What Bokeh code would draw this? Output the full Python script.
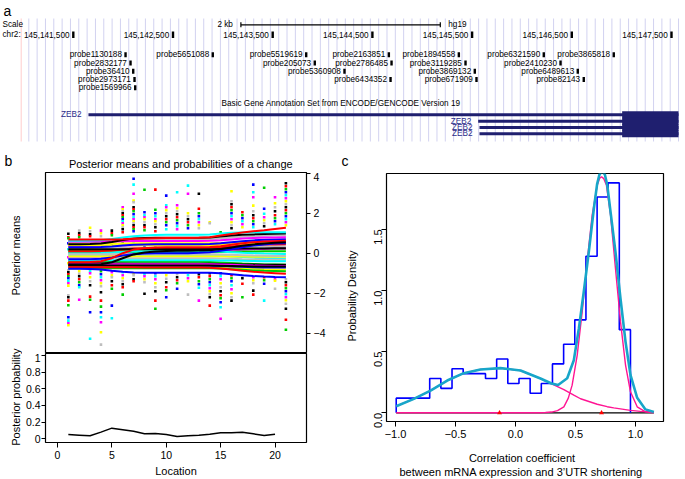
import math
import numpy as np
from bokeh.plotting import figure
from bokeh.layouts import column, row
from bokeh.models import Range1d, Label, FixedTicker, CustomJSTickFormatter
from bokeh.embed import file_html
from bokeh.resources import INLINE
from bokeh.core.properties import value

FONT = "Liberation Sans"
R_PAL = ["#000000", "#FF0000", "#00CD00", "#0000FF", "#00FFFF", "#FF00FF", "#FFFF00", "#BEBEBE"]
NAVY = "#1f1f6f"

# ---------------- panel a data ----------------
chrom_ticks = [145141500, 145142500, 145143500, 145144500, 145145500, 145146500, 145147500]
chrom_tick_labels = ["145,141,500", "145,142,500", "145,143,500", "145,144,500",
                     "145,145,500", "145,146,500", "145,147,500"]
scale_bar_start = 145143181
scale_bar_len = 2000
probe_names = ["probe1130188", "probe5651088", "probe5519619", "probe2163851", "probe1894558",
               "probe6321590", "probe3865818",
               "probe2832177", "probe205073", "probe2786485", "probe3119285", "probe2410230",
               "probe36410", "probe5360908", "probe3869132", "probe6489613",
               "probe2973171", "probe6434352", "probe671909", "probe82143",
               "probe1569966"]
probe_pos = [145142024, 145142899, 145143836, 145144665, 145145367, 145146219, 145146921,
             145142074, 145143922, 145144692, 145145434, 145146387,
             145142101, 145144220, 145145527, 145146560,
             145142114, 145144682, 145145544, 145146620,
             145142121]
probe_row = [1, 1, 1, 1, 1, 1, 1, 2, 2, 2, 2, 2, 3, 3, 3, 3, 4, 4, 4, 4, 5]
gene_names = ["ZEB2", "ZEB2", "ZEB2", "ZEB2"]
tx_start = [145141652, 145145561, 145145574, 145145574]
tx_end = [145147570, 145147570, 145147570, 145147570]
thick_start = [145147005, 145147005, 145147005, 145147005]
tx_row = [1, 2, 3, 4]

# ---------------- panel b data ----------------
locations = [1, 2, 3, 4, 5, 6, 7, 8, 9, 10, 11, 12, 13, 14, 15, 16, 17, 18, 19, 20, 21]
obs_by_location = [
    [0.97, 0.8, 0.75, 0.5, 0.2, -0.2, -0.5, -0.85, -0.95, -1.05, -1.15, -1.25, -1.37, -1.5, -1.62, -2.1, -2.2, -2.37, -2.6, -3.2, -3.37, -3.5, -3.6],
    [1.13, 1.0, 0.9, 0.8, 0.4, 0.0, -0.4, -0.9, -1.03, -1.15, -1.3, -1.45, -1.6, -1.7, -2.33],
    [1.27, 1.1, 0.95, 0.85, 0.3, -0.3, -0.9, -1.0, -1.2, -1.4, -1.6, -2.17, -2.33, -2.95, -4.28],
    [1.13, 1.0, 0.85, 0.2, -0.3, -0.9, -1.05, -1.2, -1.35, -1.5, -1.65, -1.95, -2.37, -2.67, -2.95, -3.2, -3.45, -3.95, -4.57],
    [1.13, 1.0, 0.9, 0.4, -0.2, -0.95, -1.1, -1.2, -1.4, -1.6, -1.78, -2.62, -3.25],
    [2.3, 2.2, 2.1, 2.0, 1.9, 1.8, 1.7, 1.6, 1.5, 1.4, 1.3, 1.2, 1.05, 0.5, 0.0, -0.95, -1.1, -1.25, -1.4, -1.55, -1.7, -2.07],
    [3.72, 3.43, 2.97, 2.63, 2.55, 2.3, 2.2, 2.1, 1.95, 1.8, 1.7, 1.6, 1.5, 1.4, 1.3, 1.2, 1.1, 0.5, 0.0, -1.0, -1.1, -1.3, -1.4],
    [3.17, 2.05, 1.9, 1.8, 1.7, 1.55, 1.4, 1.3, 1.15, 0.3, -1.05, -1.15, -1.3, -1.45, -2.03],
    [3.18, 2.17, 2.0, 1.85, 1.7, 1.6, 1.45, 1.3, 1.1, 0.4, -1.0, -1.15, -1.3, -1.5, -1.7, -1.9, -2.37, -2.78],
    [2.88, 2.4, 2.3, 2.15, 2.0, 1.85, 1.7, 1.55, 1.4, 1.2, 0.2, -1.1, -1.28, -1.45, -1.7, -1.85, -2.2],
    [3.05, 2.4, 2.25, 2.1, 1.95, 1.8, 1.65, 1.5, 1.35, 1.2, 0.1, -1.05, -1.2, -1.35, -1.5, -1.78],
    [3.38, 2.97, 2.0, 1.85, 1.7, 1.55, 1.4, 1.25, -1.1, -1.25, -1.4, -2.07],
    [2.97, 2.22, 2.0, 1.85, 1.7, 1.55, 1.4, 1.25, -1.05, -1.2, -1.4, -1.55, -1.73, -2.37],
    [1.55, 1.5, -1.0, -1.15, -1.3, -1.45, -1.6, -1.75, -1.9, -2.05, -2.2, -2.62],
    [1.05, -1.0, -1.15, -1.3, -1.5, -1.7, -1.9, -2.1, -2.25, -2.45, -2.7, -3.28],
    [3.1, 2.6, 2.45, 2.3, 2.15, 2.0, 1.85, 1.7, 1.55, 1.4, 1.25, -1.1, -1.25, -1.4, -1.6, -1.8, -2.0, -2.2, -2.37],
    [2.05, 1.9, 1.75, 1.6, 1.45, 1.3, -1.1, -1.25, -1.53, -2.2],
    [3.43, 3.05, 2.8, 2.38, 2.1, 1.9, 1.75, 1.6, 1.45, 1.3, -1.2, -1.35, -1.5, -1.87, -2.07],
    [3.27, 2.22, 1.97, 1.8, 1.65, 1.5, 1.35, -1.2, -1.35, -1.53, -2.37],
    [2.8, 2.5, 2.3, 2.1, 1.9, 1.75, 1.6, 1.45, -1.3, -1.37, -1.78],
    [3.5, 3.35, 3.2, 3.05, 2.9, 2.75, 2.6, 2.45, 2.3, 2.15, 2.0, 1.85, 1.7, 1.55, 1.4, -1.3, -1.45, -1.6, -1.75, -1.9, -2.05, -2.2, -2.35, -2.53, -2.78, -3.33, -3.83],
]
mean_lines = [
    [0.15, 0.15, 0.15, 0.15, 0.16, 0.17, 0.18, 0.18, 0.18, 0.18, 0.18, 0.18, 0.18, 0.18, 0.19, 0.20, 0.21, 0.22, 0.22, 0.23, 0.23],
    [0.35, 0.35, 0.35, 0.35, 0.36, 0.38, 0.40, 0.41, 0.42, 0.42, 0.42, 0.42, 0.42, 0.43, 0.46, 0.50, 0.54, 0.57, 0.59, 0.60, 0.61],
    [0.48, 0.48, 0.48, 0.48, 0.48, 0.49, 0.50, 0.50, 0.50, 0.50, 0.50, 0.50, 0.50, 0.50, 0.51, 0.52, 0.53, 0.54, 0.54, 0.55, 0.55],
    [0.55, 0.55, 0.56, 0.57, 0.60, 0.64, 0.67, 0.69, 0.70, 0.70, 0.70, 0.70, 0.70, 0.71, 0.74, 0.78, 0.82, 0.85, 0.87, 0.88, 0.89],
    [-0.40, -0.40, -0.40, -0.40, -0.41, -0.42, -0.43, -0.43, -0.43, -0.43, -0.43, -0.43, -0.43, -0.44, -0.46, -0.49, -0.52, -0.54, -0.56, -0.57, -0.58],
    [-0.10, -0.10, -0.10, -0.10, -0.10, -0.10, -0.10, -0.10, -0.10, -0.10, -0.10, -0.10, -0.10, -0.11, -0.13, -0.16, -0.19, -0.22, -0.24, -0.25, -0.26],
    [-0.20, -0.20, -0.20, -0.19, -0.15, -0.08, -0.02, 0.02, 0.04, 0.05, 0.05, 0.05, 0.05, 0.06, 0.09, 0.13, 0.17, 0.20, 0.22, 0.23, 0.24],
    [-0.65, -0.65, -0.65, -0.65, -0.65, -0.65, -0.66, -0.66, -0.66, -0.66, -0.66, -0.66, -0.66, -0.67, -0.69, -0.72, -0.75, -0.78, -0.80, -0.81, -0.82],
    [0.25, 0.25, 0.25, 0.25, 0.25, 0.26, 0.27, 0.27, 0.27, 0.27, 0.27, 0.27, 0.27, 0.27, 0.28, 0.30, 0.32, 0.33, 0.34, 0.35, 0.35],
    [-0.50, -0.50, -0.50, -0.50, -0.51, -0.52, -0.53, -0.53, -0.53, -0.53, -0.53, -0.53, -0.53, -0.53, -0.54, -0.55, -0.56, -0.57, -0.58, -0.58, -0.58],
    [0.05, 0.05, 0.05, 0.05, 0.05, 0.05, 0.05, 0.05, 0.05, 0.05, 0.05, 0.05, 0.05, 0.05, 0.06, 0.07, 0.08, 0.09, 0.10, 0.10, 0.10],
    [-0.60, -0.60, -0.60, -0.60, -0.61, -0.62, -0.63, -0.63, -0.63, -0.63, -0.63, -0.63, -0.63, -0.63, -0.64, -0.66, -0.68, -0.70, -0.71, -0.72, -0.72],
    [0.00, 0.00, 0.00, 0.01, 0.03, 0.06, 0.08, 0.09, 0.10, 0.10, 0.10, 0.10, 0.10, 0.10, 0.08, 0.05, 0.02, 0.00, -0.02, -0.03, -0.04],
    [-0.55, -0.55, -0.55, -0.55, -0.55, -0.55, -0.55, -0.55, -0.55, -0.55, -0.55, -0.55, -0.55, -0.55, -0.56, -0.58, -0.60, -0.62, -0.63, -0.64, -0.64],
    [0.40, 0.40, 0.40, 0.40, 0.40, 0.40, 0.40, 0.40, 0.40, 0.40, 0.40, 0.40, 0.40, 0.40, 0.41, 0.43, 0.45, 0.46, 0.47, 0.48, 0.48],
    [-0.25, -0.25, -0.25, -0.25, -0.25, -0.25, -0.25, -0.25, -0.25, -0.25, -0.25, -0.25, -0.25, -0.25, -0.26, -0.28, -0.30, -0.31, -0.32, -0.33, -0.33],
    [-0.62, -0.62, -0.62, -0.62, -0.62, -0.62, -0.62, -0.62, -0.62, -0.62, -0.62, -0.62, -0.62, -0.62, -0.63, -0.64, -0.65, -0.66, -0.67, -0.67, -0.67],
    [0.10, 0.10, 0.10, 0.11, 0.14, 0.19, 0.23, 0.25, 0.26, 0.26, 0.26, 0.26, 0.26, 0.27, 0.30, 0.34, 0.38, 0.41, 0.43, 0.44, 0.45],
    [-0.75, -0.75, -0.75, -0.75, -0.75, -0.75, -0.75, -0.75, -0.75, -0.75, -0.75, -0.75, -0.75, -0.75, -0.77, -0.80, -0.83, -0.86, -0.88, -0.89, -0.90],
    [0.30, 0.30, 0.30, 0.31, 0.34, 0.38, 0.42, 0.44, 0.45, 0.45, 0.45, 0.45, 0.45, 0.46, 0.50, 0.55, 0.60, 0.64, 0.67, 0.69, 0.70],
    [-0.35, -0.35, -0.35, -0.35, -0.35, -0.35, -0.35, -0.35, -0.35, -0.35, -0.35, -0.35, -0.35, -0.35, -0.36, -0.37, -0.38, -0.39, -0.40, -0.40, -0.40],
    [0.58, 0.58, 0.58, 0.58, 0.59, 0.60, 0.61, 0.61, 0.61, 0.61, 0.61, 0.61, 0.61, 0.62, 0.65, 0.69, 0.73, 0.76, 0.78, 0.79, 0.80],
    [-0.15, -0.15, -0.15, -0.15, -0.15, -0.15, -0.15, -0.15, -0.15, -0.15, -0.15, -0.15, -0.15, -0.15, -0.15, -0.16, -0.17, -0.18, -0.18, -0.18, -0.18],
    [-0.05, -0.05, -0.05, -0.05, -0.05, -0.05, -0.05, -0.05, -0.05, -0.05, -0.05, -0.05, -0.05, -0.05, -0.06, -0.08, -0.10, -0.12, -0.13, -0.14, -0.14],
    [0.20, 0.20, 0.20, 0.20, 0.20, 0.20, 0.20, 0.20, 0.20, 0.20, 0.20, 0.20, 0.20, 0.20, 0.21, 0.22, 0.23, 0.24, 0.24, 0.25, 0.25],
    [0.45, 0.45, 0.46, 0.48, 0.56, 0.66, 0.73, 0.76, 0.77, 0.77, 0.77, 0.77, 0.77, 0.79, 0.83, 0.88, 0.92, 0.94, 0.96, 0.97, 0.98],
    [-0.70, -0.70, -0.70, -0.70, -0.70, -0.70, -0.70, -0.71, -0.71, -0.71, -0.71, -0.72, -0.72, -0.73, -0.76, -0.82, -0.88, -0.93, -0.97, -1.00, -1.03],
    [-0.30, -0.30, -0.30, -0.28, -0.22, -0.12, -0.05, -0.02, 0.00, 0.00, 0.00, 0.00, 0.02, 0.05, 0.12, 0.20, 0.30, 0.38, 0.44, 0.48, 0.50],
    [-0.45, -0.45, -0.44, -0.40, -0.25, 0.00, 0.18, 0.25, 0.28, 0.30, 0.30, 0.30, 0.30, 0.31, 0.35, 0.42, 0.50, 0.55, 0.58, 0.60, 0.62],
    [0.62, 0.62, 0.63, 0.65, 0.71, 0.79, 0.85, 0.89, 0.91, 0.92, 0.92, 0.92, 0.92, 0.94, 0.99, 1.02, 1.04, 1.05, 1.05, 1.05, 1.05],
    [0.68, 0.68, 0.68, 0.68, 0.69, 0.70, 0.72, 0.74, 0.75, 0.76, 0.76, 0.76, 0.77, 0.80, 0.88, 0.96, 1.03, 1.10, 1.15, 1.21, 1.27],
    [-0.78, -0.78, -0.79, -0.82, -0.88, -0.93, -0.96, -0.98, -0.98, -0.98, -0.98, -0.98, -0.98, -0.98, -1.00, -1.05, -1.10, -1.14, -1.17, -1.19, -1.20],
    [-0.57, -0.57, -0.57, -0.55, -0.45, -0.25, -0.06, 0.04, 0.09, 0.11, 0.12, 0.12, 0.13, 0.15, 0.21, 0.29, 0.37, 0.44, 0.49, 0.52, 0.55],
]
mean_line_colors = ["green3", "magenta", "yellow", "gray", "green3", "cyan", "magenta", "yellow",
                    "gray", "black", "green3", "blue", "cyan", "magenta", "yellow", "gray",
                    "black", "red", "green3", "blue", "cyan", "magenta", "yellow", "gray",
                    "black", "black", "red", "blue", "red", "cyan", "red", "blue", "black"]
prob_locations = [1, 2, 3, 4, 5, 6, 7, 8, 9, 10, 11, 12, 13, 14, 15, 16, 17, 18, 19, 20]
prob_values = [0.052, 0.044, 0.036, 0.080, 0.128, 0.110, 0.090, 0.060, 0.064, 0.052,
               0.028, 0.036, 0.044, 0.056, 0.072, 0.072, 0.080, 0.060, 0.040, 0.056]

# ---------------- panel c data ----------------
bin_edges = [-0.994, -0.901, -0.808, -0.715, -0.622, -0.529, -0.436, -0.343, -0.250, -0.157, -0.064,
             0.029, 0.122, 0.215, 0.308, 0.401, 0.494, 0.587, 0.680, 0.772, 0.865, 0.958]
bin_density = [0.12, 0.12, 0.12, 0.28, 0.20, 0.36, 0.32, 0.32, 0.28, 0.44, 0.24,
               0.28, 0.16, 0.24, 0.40, 0.56, 0.76, 1.28, 1.765, 1.88, 0.68]
mix_x = [-0.994, -0.847, -0.708, -0.569, -0.431, -0.292, -0.125, 0.042, 0.208, 0.30, 0.355, 0.431,
         0.486, 0.528, 0.569, 0.611, 0.653, 0.680, 0.700, 0.722, 0.744, 0.765, 0.792, 0.833, 0.875,
         0.917, 0.958, 1.014, 1.083, 1.153]
mix_y = [0.054, 0.114, 0.182, 0.264, 0.324, 0.354, 0.365, 0.346, 0.280, 0.240, 0.227, 0.283,
         0.430, 0.690, 0.990, 1.316, 1.670, 1.870, 1.950, 1.975, 1.950, 1.860, 1.643, 1.316, 0.934,
         0.580, 0.310, 0.123, 0.028, 0.006]
comp1_x = [-0.994, -0.847, -0.708, -0.569, -0.431, -0.292, -0.125, 0.042, 0.208, 0.306, 0.403,
           0.486, 0.542, 0.681, 0.764, 0.819, 0.958, 1.042, 1.153]
comp1_y = [0.054, 0.114, 0.182, 0.264, 0.324, 0.354, 0.365, 0.346, 0.280, 0.235, 0.190,
           0.145, 0.115, 0.070, 0.050, 0.040, 0.020, 0.012, 0.006]
comp2_x = [-0.994, 0.20, 0.25, 0.30, 0.35, 0.403, 0.440, 0.472, 0.514, 0.556, 0.597, 0.639, 0.681,
           0.700, 0.717, 0.735, 0.758, 0.792, 0.833, 0.875, 0.917, 0.958, 1.014, 1.083, 1.153]
comp2_y = [0.0, 0.0, 0.002, 0.006, 0.018, 0.049, 0.120, 0.226, 0.470, 0.826, 1.235, 1.617, 1.860,
           1.915, 1.930, 1.915, 1.860, 1.617, 1.180, 0.745, 0.390, 0.172, 0.049, 0.008, 0.0]
comp_means = [-0.133, 0.717]

COLOR_NAMES = {"black": R_PAL[0], "red": R_PAL[1], "green3": R_PAL[2], "blue": R_PAL[3],
               "cyan": R_PAL[4], "magenta": R_PAL[5], "yellow": R_PAL[6], "gray": R_PAL[7]}


def add_label(p, x, y, text, size="11px", align="left", baseline="middle", angle=0.0, color="black"):
    p.add_layout(Label(x=x, y=y, text=text, text_font=FONT, text_font_size=size, text_align=align,
                       text_baseline=baseline, angle=angle, text_color=color))


def style_axis(ax, size, tick_out=5, standoff=3):
    ax.axis_line_color = None
    ax.major_tick_line_color = "black"
    ax.major_tick_line_width = 1
    ax.major_tick_out = tick_out
    ax.major_tick_in = 0
    ax.minor_tick_line_color = None
    ax.major_label_text_font = FONT
    ax.major_label_text_font_size = size
    ax.major_label_text_color = "black"
    ax.major_label_standoff = standoff


def strip(x0, y0, w, h):
    f = figure(width=w, height=h, x_range=Range1d(x0, x0 + w), y_range=Range1d(y0 + h, y0),
               output_backend="svg", toolbar_location=None, x_axis_location=None,
               y_axis_location=None, min_border=0, title=None)
    f.outline_line_color = None
    f.xgrid.visible = False
    f.ygrid.visible = False
    return f


# ================= panel a (page px 0..685 x 0..172) =================
PX_REF, PX_PER_KB = 72.8, 99.7


def px2gen(px):
    return chrom_ticks[0] + (np.asarray(px, dtype=float) - PX_REF) * 1000.0 / PX_PER_KB


pa = figure(width=685, height=172, x_range=Range1d(float(px2gen(0)), float(px2gen(685))),
            y_range=Range1d(172, 0), output_backend="svg", toolbar_location=None,
            x_axis_location=None, y_axis_location=None, min_border=0, title=None)
pa.outline_line_color = None
pa.xgrid.visible = False
pa.ygrid.visible = False

gx = px2gen(np.arange(28.3, 685, 8.33))
pa.segment(x0=gx, y0=18, x1=gx, y1=141, line_color="#d2d2f0", line_width=1)
pk = px2gen([20.7])
pa.segment(x0=pk, y0=[18], x1=pk, y1=[141], line_color="#ffcccc", line_width=1)

TF = value(FONT)
AFS = value("8.2px")
sb0, sb1 = scale_bar_start, scale_bar_start + scale_bar_len
pa.segment(x0=[sb0], y0=[24.3], x1=[sb1], y1=[24.3], line_color="black", line_width=1.2)
pa.segment(x0=[sb0, sb1], y0=[21.8, 21.8], x1=[sb0, sb1], y1=[26.8, 26.8], line_color="black", line_width=1.2)
pa.text(x=[sb0], y=[24.3], text=["2 kb"], x_offset=-8, text_align="right", text_baseline="middle",
        text_font=TF, text_font_size=AFS, text_color="black")
pa.text(x=[sb1], y=[24.3], text=["hg19"], x_offset=8, text_align="left", text_baseline="middle",
        text_font=TF, text_font_size=AFS, text_color="black")
add_label(pa, float(px2gen(2)), 24.3, "Scale", size="8.2px")
add_label(pa, float(px2gen(2)), 34.2, "chr2:", size="8.2px")
add_label(pa, float(px2gen(3)), 10.3, "a", size="14px", baseline="alphabetic")

pa.rect(x=chrom_ticks, y=34.3, width=2.4, height=6.5, width_units="screen", fill_color="black", line_color=None)
pa.text(x=chrom_ticks, y=34.3, text=chrom_tick_labels, x_offset=-3.8, text_align="right",
        text_baseline="middle", text_font=TF, text_font_size=AFS, text_color="black")

probe_y = [54.3 + 8.25 * (r - 1) for r in probe_row]
pa.rect(x=probe_pos, y=probe_y, width=2.4, height=5, width_units="screen", fill_color="black", line_color=None)
pa.text(x=probe_pos, y=probe_y, text=probe_names, x_offset=-3.6, text_align="right",
        text_baseline="middle", text_font=TF, text_font_size=AFS, text_color="black")

add_label(pa, float(px2gen(340.5)), 102.7, "Basic Gene Annotation Set from ENCODE/GENCODE Version 19",
          size="8.2px", align="center")
row_y = [114.3, 120.7, 127.0, 133.3]
tx_y = [row_y[r - 1] for r in tx_row]
pa.hbar(y=tx_y, left=tx_start, right=tx_end, height=3, fill_color=NAVY, line_color=None)
pa.hbar(y=tx_y, left=thick_start, right=tx_end, height=7, fill_color=NAVY, line_color=None)
pa.text(x=tx_start, y=tx_y, text=gene_names, x_offset=-7, text_align="right", text_baseline="middle",
        text_font=TF, text_font_size=AFS, text_color="#2b2b8a")

# panel letters and b title (header zone of the same canvas)
add_label(pa, float(px2gen(4)), 160.7, "b", size="14px", baseline="alphabetic")
add_label(pa, float(px2gen(341)), 160.7, "c", size="14px", baseline="alphabetic")
add_label(pa, float(px2gen(180.3)), 163.5, "Posterior means and probabilities of a change",
          size="11px", align="center")

# ================= panel b =================
stripL = strip(0, 172, 22, 307)
add_label(stripL, 15, 255, "Posterior means", size="11px", align="center", angle=math.pi / 2)
add_label(stripL, 15, 396.7, "Posterior probability", size="11px", align="center", angle=math.pi / 2)

pb = figure(width=318, height=181, x_range=Range1d(-1.099, 22.894), y_range=Range1d(-5.015, 4.035),
            output_backend="svg", toolbar_location=None, title=None,
            x_axis_location=None, y_axis_location="right",
            min_border_left=22, min_border_right=34, min_border_top=0, min_border_bottom=0)
pb.outline_line_color = "black"
pb.outline_line_width = 1.2
pb.xgrid.visible = False
pb.ygrid.visible = False
style_axis(pb.yaxis[0], "10.5px", tick_out=4, standoff=3)
pb.yaxis[0].ticker = FixedTicker(ticks=[-4, -2, 0, 2, 4])
pb.yaxis[0].formatter = CustomJSTickFormatter(
    code='return (tick < 0 ? "\\u2212" : "") + Math.abs(tick).toFixed(0);')

pxs, pys, pcs = [], [], []
k = 0
for loc, vals in zip(locations, obs_by_location):
    for v in vals:
        pxs.append(loc)
        pys.append(v)
        pcs.append(R_PAL[k % 8])
        k += 1
pb.scatter(x=pxs, y=pys, marker="square", size=2.6, fill_color=pcs, line_color=None)
for vals, cname in zip(mean_lines, mean_line_colors):
    pb.line(x=locations, y=vals, line_color=COLOR_NAMES[cname], line_width=2)

pbb = figure(width=318, height=111, x_range=Range1d(-1.099, 22.894), y_range=Range1d(-0.0444, 1.024),
             output_backend="svg", toolbar_location=None, title=None,
             x_axis_location="below", y_axis_location="left",
             min_border_left=22, min_border_right=34, min_border_top=0, min_border_bottom=22)
pbb.outline_line_color = "black"
pbb.outline_line_width = 1.2
pbb.xgrid.visible = False
pbb.ygrid.visible = False
style_axis(pbb.xaxis[0], "10.5px", tick_out=5, standoff=3)
style_axis(pbb.yaxis[0], "10.5px", tick_out=4, standoff=1)
pbb.xaxis[0].ticker = FixedTicker(ticks=[0, 5, 10, 15, 20])
pbb.yaxis[0].ticker = FixedTicker(ticks=[0, 0.2, 0.4, 0.6, 0.8, 1.0])
pbb.yaxis[0].formatter = CustomJSTickFormatter(code="return String(Math.round(tick * 10) / 10);")
pbb.line(x=prob_locations, y=prob_values, line_color="black", line_width=1.5)

stripLoc = strip(22, 464, 318, 15)
add_label(stripLoc, 181, 470.5, "Location", size="11px", align="center")

# ================= panel c =================
stripPD = strip(340, 172, 20, 307)
add_label(stripPD, 351.5, 295.5, "Probability Density", size="11px", align="center", angle=math.pi / 2)

pc = figure(width=325, height=274, x_range=Range1d(-1.075, 1.2333), y_range=Range1d(-0.0711, 1.9567),
            output_backend="svg", toolbar_location=None, title=None,
            min_border_left=26, min_border_right=22, min_border_top=1, min_border_bottom=25)
pc.outline_line_color = "black"
pc.outline_line_width = 1.2
pc.xgrid.visible = False
pc.ygrid.visible = False
style_axis(pc.xaxis[0], "11px", tick_out=5, standoff=3)
style_axis(pc.yaxis[0], "11px", tick_out=5, standoff=3)
pc.xaxis[0].ticker = FixedTicker(ticks=[-1.0, -0.5, 0.0, 0.5, 1.0])
pc.yaxis[0].ticker = FixedTicker(ticks=[0.0, 0.5, 1.0, 1.5])
fmt1 = 'return (tick < 0 ? "\\u2212" : "") + Math.abs(tick).toFixed(1);'
pc.xaxis[0].formatter = CustomJSTickFormatter(code=fmt1)
pc.yaxis[0].formatter = CustomJSTickFormatter(code=fmt1)
pc.yaxis[0].major_label_orientation = math.pi / 2

hx, hy = [bin_edges[0]], [0.0]
for i, h in enumerate(bin_density):
    hx += [bin_edges[i], bin_edges[i + 1]]
    hy += [h, h]
hx.append(bin_edges[-1])
hy.append(0.0)
pc.line(x=[mix_x[0], mix_x[-1]], y=[0, 0], line_color="black", line_width=1.2)
pc.line(x=hx, y=hy, line_color="#0000FF", line_width=1.6)
pc.line(x=comp1_x, y=comp1_y, line_color="#FF1493", line_width=1.4)
pc.line(x=comp2_x, y=comp2_y, line_color="#FF1493", line_width=1.4)
pc.line(x=mix_x, y=mix_y, line_color="#17A6C9", line_width=2.6)
pc.scatter(x=comp_means, y=[0, 0], marker="triangle", size=5, fill_color="#FF0000", line_color=None)

stripXL = strip(360, 446, 325, 33)
add_label(stripXL, 519, 457.7, "Correlation coefficient", size="11px", align="center")
add_label(stripXL, 518, 471.5, "between mRNA expression and 3\u2019UTR shortening", size="11px", align="center")

layout = column(
    pa,
    row(stripL, column(pb, pbb, stripLoc), stripPD, column(pc, stripXL)),
)
open("out.html", "w").write(file_html(layout, INLINE))
